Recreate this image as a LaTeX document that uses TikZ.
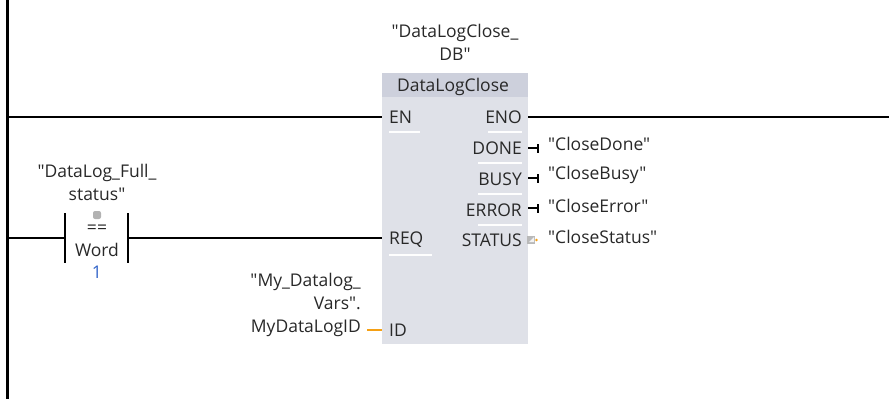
\documentclass[tikz,border=0pt]{standalone}
\usepackage{fontspec}
\setmainfont{Open Sans}[Ligatures=TeXOff]
\newcommand{\dq}{"}
\definecolor{boxfill}{RGB}{223,225,232}
\definecolor{hdrfill}{RGB}{205,208,220}
\definecolor{txt}{RGB}{40,40,40}
\definecolor{pinorange}{RGB}{245,160,20}
\definecolor{numblue}{RGB}{50,100,200}
\tikzset{
  wire/.style={line width=2.6pt, black},
  lbl/.style={inner sep=0pt, font=\fontsize{17.5}{23}\selectfont, text=txt},
  pin/.style={inner sep=0pt, font=\fontsize{17.5}{23}\selectfont, text=txt},
  uline/.style={line width=1.2pt, white!96!boxfill},
  tmark/.style={line width=2pt, black},
}
\begin{document}
\begin{tikzpicture}[x=1pt,y=-1pt]
\useasboundingbox (0,0) rectangle (889,399);
% power rail
\draw[line width=3pt] (7,0) -- (7,399);
% block
\node[draw=none, fill=boxfill, minimum width=146pt, minimum height=271pt, anchor=north west, inner sep=0pt] (blk) at (382,73) {};
\node[fill=hdrfill, minimum width=146pt, minimum height=24pt, anchor=north west, inner sep=0pt] (hdr) at (382,73) {};
\node[lbl] (title) at (453,87) {DataLogClose};
\node[lbl, align=center] (inst) at (455,42) {\dq DataLogClose\_\\DB\dq};
% pins
\coordinate (en) at (382,117);
\coordinate (eno) at (528,117);
\coordinate (req) at (382,238);
\coordinate (id) at (382,330);
\node[pin, anchor=west] (ENl) at (389,117) {EN};
\node[pin, anchor=east] (ENOl) at (522,117) {ENO};
\node[pin, anchor=east] (DONEl) at (522,148) {DONE};
\node[pin, anchor=east] (BUSYl) at (522,179) {BUSY};
\node[pin, anchor=east] (ERRORl) at (522,210) {ERROR};
\node[pin, anchor=east] (STATUSl) at (522,240) {STATUS};
\node[pin, anchor=west] (REQl) at (389,240) {REQ};
\node[pin, anchor=west] (IDl) at (389,330) {ID};
% underlines
\draw[uline] (389,132) -- (420,132);
\draw[uline] (488,132) -- (522,132);
\draw[uline] (478,163) -- (522,163);
\draw[uline] (478,194) -- (522,194);
\draw[uline] (478,225) -- (522,225);
\draw[uline] (389,255) -- (432,255);
% EN/ENO wires
\draw[wire] (7,117) -- (en);
\coordinate (eend) at (889,117);
\draw[wire] (eno) -- (eend);
% output marks
\foreach \yy/\nm in {148/done,178/busy,208/err}{
  \coordinate (\nm a) at (528,\yy);
  \coordinate (\nm b) at (538,\yy);
  \draw[tmark] (\nm a) -- (\nm b);
  \draw[line width=2.4pt] ([yshift=-4.5pt]\nm b) -- ([yshift=4.5pt]\nm b);
}
\node[lbl, anchor=west] (cdone) at (548,144) {\dq CloseDone\dq};
\node[lbl, anchor=west] (cbusy) at (548,175) {\dq CloseBusy\dq};
\node[lbl, anchor=west] (cerr) at (548,206) {\dq CloseError\dq};
\node[lbl, anchor=west] (cstat) at (548,237) {\dq CloseStatus\dq};
% status marker
\fill[gray!55] (527,235.5) rectangle (535,243.5);
\fill[white!90!gray] (529,242) -- (534,242) -- (534,237) -- cycle;
\fill[pinorange] (536.5,240) circle (1.4pt);
% contact
\coordinate (cl) at (65,238);
\coordinate (cr) at (128,238);
\draw[wire] (7,238) -- (cl);
\draw[wire] (cr) -- (req);
\draw[line width=2.6pt] (65,213) -- (65,263);
\draw[line width=2.6pt] (128,213) -- (128,263);
\node[lbl, align=center] (ctag) at (97,182) {\dq DataLog\_Full\_\\status\dq};
\fill[gray!60, rounded corners=2pt] (93,211) rectangle (101,219);
\node[lbl] (eq) at (97,229) {==};
\node[lbl] (word) at (97,250) {Word};
\node[lbl, text=numblue] (one) at (97,272) {1};
% ID input
\node[lbl, align=right, anchor=east] (idtag) at (361,305) {\dq My\_Datalog\_\\Vars\dq.\\MyDataLogID};
\coordinate (idin) at (367,330);
\draw[line width=2.4pt, pinorange] (idin) -- (id);
\end{tikzpicture}
\end{document}
